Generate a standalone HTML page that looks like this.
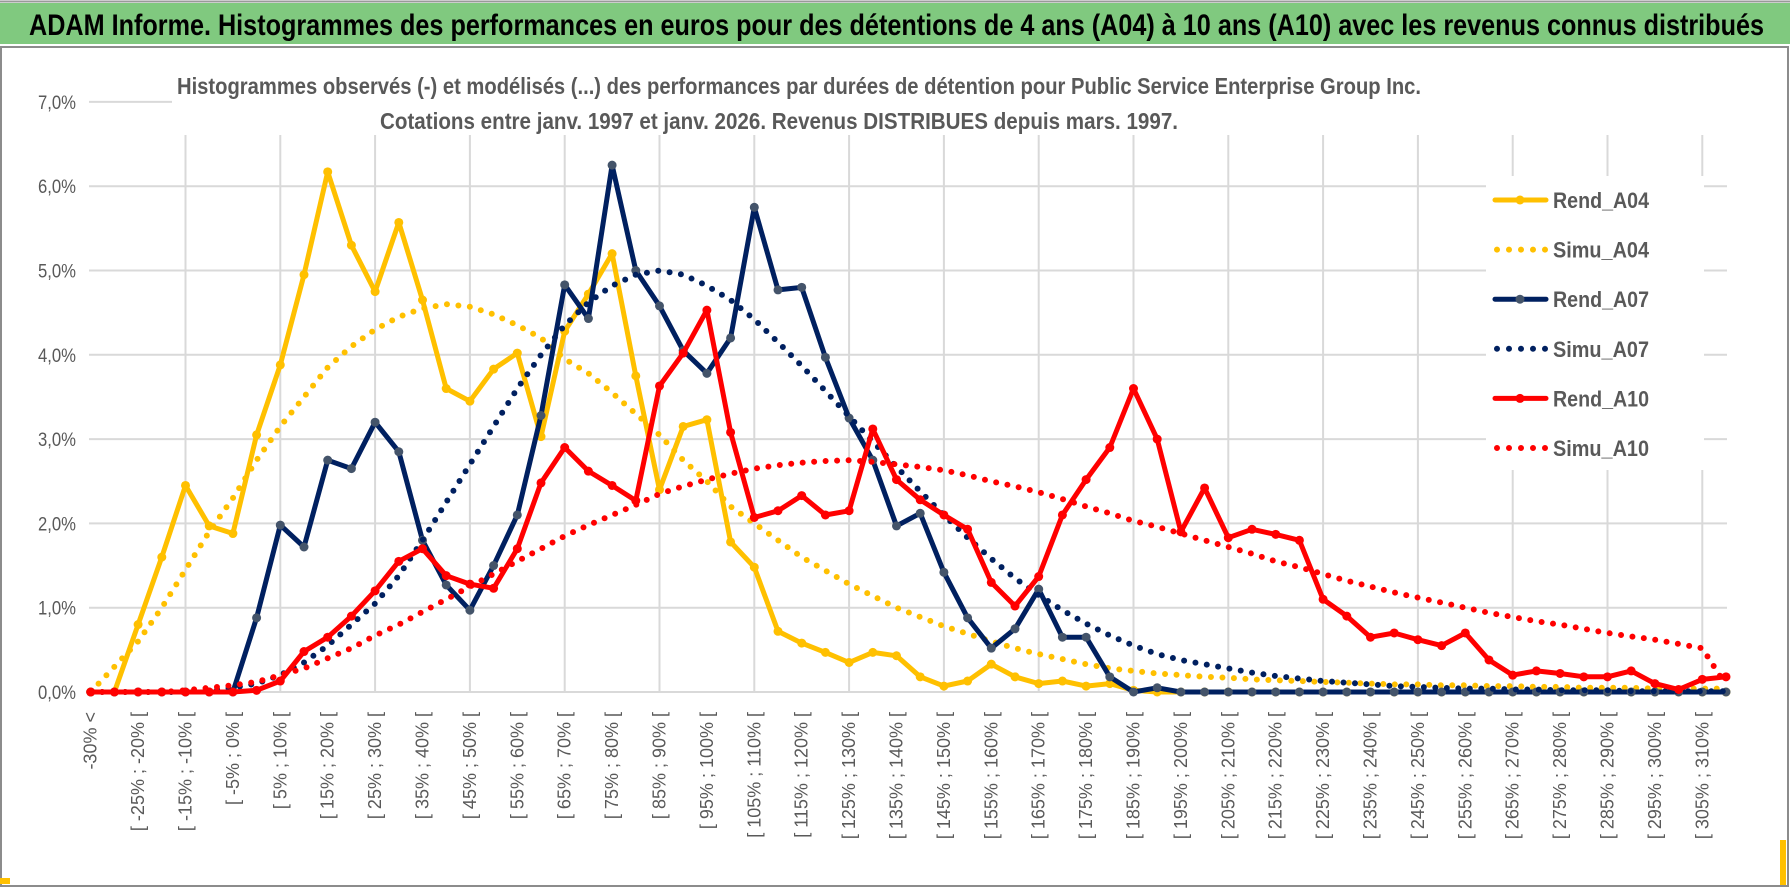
<!DOCTYPE html>
<html><head><meta charset="utf-8"><style>
html,body{margin:0;padding:0;background:#fff;}
svg{display:block;}
text{font-family:"Liberation Sans",sans-serif;}
</style></head><body>
<svg id="chart" width="1790" height="888" viewBox="0 0 1790 888" xmlns="http://www.w3.org/2000/svg">
<rect x="0" y="0" width="1790" height="888" fill="#fff"/>
<rect x="0" y="3" width="1790" height="41" fill="#80C97F"/>
<line x1="0" y1="1.5" x2="1790" y2="1.5" stroke="#999" stroke-width="2"/>
<text x="29" y="35" font-size="30" font-weight="bold" fill="#000" textLength="1735" lengthAdjust="spacingAndGlyphs">ADAM Informe. Histogrammes des performances en euros pour des détentions de 4 ans (A04) à 10 ans (A10) avec les revenus connus distribués</text>
<rect x="1" y="47" width="1787" height="839" fill="none" stroke="#8c8c8c" stroke-width="2"/>
<g id="grid"></g>
<rect x="172" y="58" width="1560" height="76" fill="#fff"/>
<text x="177" y="94" font-size="23" font-weight="bold" fill="#595959" textLength="1244" lengthAdjust="spacingAndGlyphs">Histogrammes observés (-) et modélisés (...) des performances par durées de détention pour Public Service Enterprise Group Inc.</text>
<text x="380" y="129" font-size="23" font-weight="bold" fill="#595959" textLength="798" lengthAdjust="spacingAndGlyphs">Cotations entre janv. 1997 et janv. 2026. Revenus DISTRIBUES depuis mars. 1997.</text>
<g id="series"></g>
<g id="axes"></g>
<g id="legend"></g>
<rect x="0" y="878" width="10" height="6" fill="#FFC000"/>
<rect x="1780" y="840" width="6" height="45" fill="#FFC000"/>
</svg>
<script>
const categories = ["-30% <","[ -30% ; -25% [","[ -25% ; -20% [","[ -20% ; -15% [","[ -15% ; -10% [","[ -10% ; -5% [","[ -5% ; 0% [","[ 0% ; 5% [","[ 5% ; 10% [","[ 10% ; 15% [","[ 15% ; 20% [","[ 20% ; 25% [","[ 25% ; 30% [","[ 30% ; 35% [","[ 35% ; 40% [","[ 40% ; 45% [","[ 45% ; 50% [","[ 50% ; 55% [","[ 55% ; 60% [","[ 60% ; 65% [","[ 65% ; 70% [","[ 70% ; 75% [","[ 75% ; 80% [","[ 80% ; 85% [","[ 85% ; 90% [","[ 90% ; 95% [","[ 95% ; 100% [","[ 100% ; 105% [","[ 105% ; 110% [","[ 110% ; 115% [","[ 115% ; 120% [","[ 120% ; 125% [","[ 125% ; 130% [","[ 130% ; 135% [","[ 135% ; 140% [","[ 140% ; 145% [","[ 145% ; 150% [","[ 150% ; 155% [","[ 155% ; 160% [","[ 160% ; 165% [","[ 165% ; 170% [","[ 170% ; 175% [","[ 175% ; 180% [","[ 180% ; 185% [","[ 185% ; 190% [","[ 190% ; 195% [","[ 195% ; 200% [","[ 200% ; 205% [","[ 205% ; 210% [","[ 210% ; 215% [","[ 215% ; 220% [","[ 220% ; 225% [","[ 225% ; 230% [","[ 230% ; 235% [","[ 235% ; 240% [","[ 240% ; 245% [","[ 245% ; 250% [","[ 250% ; 255% [","[ 255% ; 260% [","[ 260% ; 265% [","[ 265% ; 270% [","[ 270% ; 275% [","[ 275% ; 280% [","[ 280% ; 285% [","[ 285% ; 290% [","[ 290% ; 295% [","[ 295% ; 300% [","[ 300% ; 305% [","[ 305% ; 310% [","[ 310% ; 315% ["];
const yTicks = [0,1,2,3,4,5,6,7];
const yTickLabels = ["0,0%","1,0%","2,0%","3,0%","4,0%","5,0%","6,0%","7,0%"];
const rendA04 = [0,0,0.8,1.6,2.45,1.97,1.88,3.05,3.88,4.95,
6.17,5.3,4.75,5.57,4.65,3.6,3.45,3.83,4.02,3.03,
4.28,4.72,5.2,3.75,2.4,3.15,3.23,1.78,1.48,0.72,
0.58,0.47,0.35,0.47,0.43,0.18,0.07,0.13,0.33,0.18,
0.1,0.13,0.07,0.1,0.02,0,0,0,0,0,
0,0,0,0,0,0,0,0,0,0,
0,0,0,0,0,0,0,0,0,0];
const simuA04 = [0,0.3,0.6,1.0,1.45,1.9,2.3,2.75,3.15,3.5,
3.85,4.1,4.3,4.45,4.55,4.6,4.57,4.48,4.35,4.2,
3.95,3.78,3.55,3.3,3.05,2.75,2.5,2.2,2.0,1.8,
1.6,1.44,1.28,1.14,1.0,0.89,0.78,0.69,0.6,0.52,
0.45,0.39,0.33,0.28,0.25,0.22,0.2,0.18,0.17,0.15,
0.14,0.13,0.12,0.11,0.1,0.09,0.09,0.08,0.08,0.07,
0.07,0.06,0.06,0.05,0.05,0.05,0.04,0.04,0.04,0.04];
const rendA07 = [0,0,0,0,0,0,0,0.88,1.98,1.72,
2.75,2.65,3.2,2.85,1.8,1.27,0.97,1.5,2.1,3.28,
4.83,4.43,6.25,5.0,4.58,4.05,3.78,4.2,5.75,4.77,
4.8,3.97,3.25,2.75,1.97,2.12,1.42,0.88,0.52,0.75,
1.22,0.65,0.65,0.18,0,0.05,0,0,0,0,
0,0,0,0,0,0,0,0,0,0,
0,0,0,0,0,0,0,0,0,0];
const simuA07 = [0,0,0,0,0,0.02,0.05,0.1,0.2,0.35,
0.55,0.8,1.05,1.38,1.8,2.25,2.7,3.15,3.6,4.0,
4.35,4.62,4.82,4.95,5.0,4.95,4.82,4.65,4.42,4.15,
3.87,3.57,3.27,2.97,2.67,2.38,2.1,1.83,1.58,1.35,
1.15,0.97,0.81,0.67,0.55,0.45,0.38,0.33,0.28,0.23,
0.19,0.16,0.13,0.11,0.09,0.07,0.06,0.05,0.04,0.04,
0.03,0.03,0.02,0.02,0.02,0.01,0.01,0.01,0.01,0.01];
const rendA10 = [0,0,0,0,0,0,0,0.02,0.13,0.48,
0.65,0.9,1.2,1.55,1.7,1.38,1.28,1.23,1.7,2.48,
2.9,2.62,2.45,2.27,3.63,4.02,4.53,3.08,2.07,2.15,
2.33,2.1,2.15,3.12,2.52,2.28,2.1,1.93,1.3,1.02,
1.37,2.1,2.52,2.9,3.6,3.0,1.9,2.42,1.83,1.93,
1.87,1.8,1.1,0.9,0.65,0.7,0.62,0.55,0.7,0.38,
0.2,0.25,0.22,0.18,0.18,0.25,0.1,0.03,0.15,0.18];
const simuA10 = [0,0,0,0,0.02,0.05,0.08,0.12,0.2,0.28,
0.4,0.52,0.67,0.8,0.95,1.1,1.25,1.4,1.55,1.7,
1.85,1.98,2.1,2.22,2.35,2.44,2.52,2.59,2.65,2.69,
2.72,2.74,2.75,2.73,2.7,2.67,2.63,2.57,2.5,2.44,
2.37,2.29,2.2,2.12,2.03,1.96,1.88,1.8,1.72,1.64,
1.55,1.48,1.4,1.32,1.25,1.18,1.12,1.06,1.0,0.94,
0.89,0.84,0.8,0.75,0.7,0.66,0.62,0.57,0.52,0.08];
const seriesNames = ["Rend_A04","Simu_A04","Rend_A07","Simu_A07","Rend_A10","Simu_A10"];

const NS = "http://www.w3.org/2000/svg";
const X0 = 90.7, XSTEP = 23.7, Y0 = 692, YUNIT = 84.3;
function xScale(i){ return X0 + i*XSTEP; }
function yScale(v){ return Y0 - v*YUNIT; }
function mk(tag, attrs, parent){ const e=document.createElementNS(NS,tag); for(const k in attrs) e.setAttribute(k,attrs[k]); parent.appendChild(e); return e; }

const grid = document.getElementById('grid');
const axes = document.getElementById('axes');
yTicks.forEach((t,k)=>{
  const gl = mk('line',{x1:89,x2:1727,y1:yScale(t),y2:yScale(t),stroke:'#d9d9d9','stroke-width':2},grid);
  
  
  const tl = mk('text',{x:76,y:yScale(t)+7,'font-size':19,fill:'#595959','text-anchor':'end',textLength:38,lengthAdjust:'spacingAndGlyphs'},axes);
  tl.textContent = yTickLabels[k];
  
  
});
categories.forEach((c,i)=>{
  if(i%4===0 && i>0){
    const vl = mk('line',{x1:xScale(i),x2:xScale(i),y1:135,y2:Y0,stroke:'#d9d9d9','stroke-width':2},grid);
    
    
  }
  if(i%2===0){
    const x = xScale(i)+6;
    const tl = mk('text',{x:x,y:712,'font-size':18,fill:'#595959','text-anchor':'end',transform:`rotate(-90 ${x} 712)`},axes);
    tl.textContent = c;
    
    
  }
});

const sg = document.getElementById('series');
function pathFor(arr){ return arr.map((v,i)=>(i?'L':'M')+xScale(i).toFixed(1)+' '+yScale(v).toFixed(1)).join(' '); }
function drawRend(arr,color,marker,name){
  const g = mk('g',{},sg);
  
  
  mk('path',{d:pathFor(arr),fill:'none',stroke:color,'stroke-width':5,'stroke-linejoin':'round'},g);
  arr.forEach((v,i)=>{
    const c = mk('circle',{cx:xScale(i),cy:yScale(v),r:4.5,fill:marker},g);
    
    
  });
}
function drawSimu(arr,color,name){
  const p = mk('path',{d:pathFor(arr),fill:'none',stroke:color,'stroke-width':6,'stroke-linecap':'round','stroke-dasharray':'0 11.5'},sg);
  
  
}
drawRend(rendA04,'#FFC000','#FFC000','rend-a04-line');
drawSimu(simuA04,'#FFC000','simu-a04-line');
drawRend(rendA07,'#002060','#44546A','rend-a07-line');
drawSimu(simuA07,'#002060','simu-a07-line');
drawRend(rendA10,'#FF0000','#FF0000','rend-a10-line');
drawSimu(simuA10,'#FF0000','simu-a10-line');

const lg = document.getElementById('legend');
mk('rect',{x:1486,y:176,width:218,height:294,fill:'#fff'},lg);
const lColors = ['#FFC000','#FFC000','#002060','#002060','#FF0000','#FF0000'];
const lMarkers = ['#FFC000',null,'#44546A',null,'#FF0000',null];
seriesNames.forEach((n,k)=>{
  const y = 200 + k*49.6;
  const e = mk('g',{},lg);
  
  
  if(lMarkers[k]){
    mk('line',{x1:1495,x2:1546,y1:y,y2:y,stroke:lColors[k],'stroke-width':5,'stroke-linecap':'round'},e);
    mk('circle',{cx:1520,cy:y,r:4.5,fill:lMarkers[k]},e);
  } else {
    mk('line',{x1:1497,x2:1546,y1:y,y2:y,stroke:lColors[k],'stroke-width':6,'stroke-linecap':'round','stroke-dasharray':'0 12'},e);
  }
  const t = mk('text',{x:1553,y:y+8,'font-size':22,'font-weight':'bold',fill:'#595959',textLength:96,lengthAdjust:'spacingAndGlyphs'},e);
  t.textContent = n;
});
</script>
</body></html>
